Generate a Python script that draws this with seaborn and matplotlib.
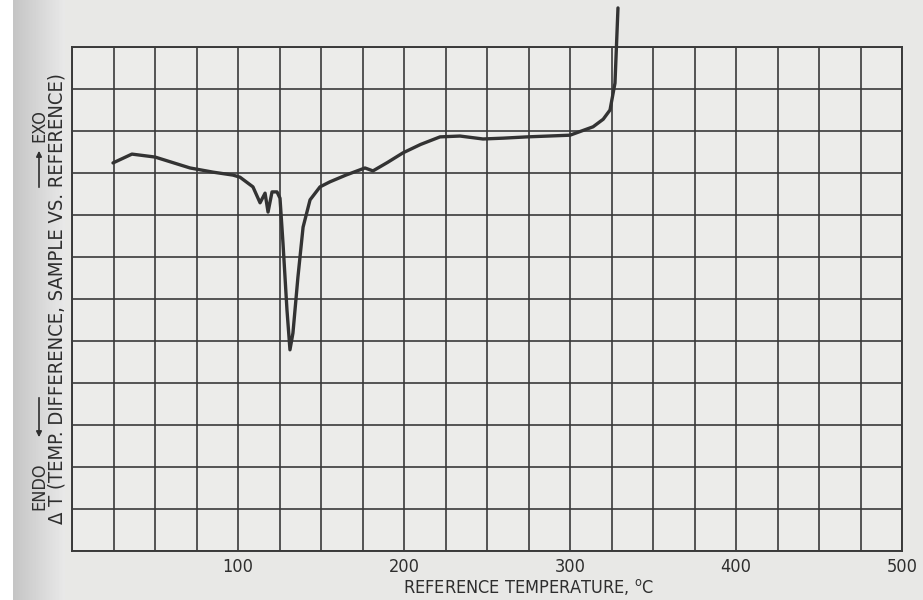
import numpy as np
import matplotlib
matplotlib.use("Agg")
import matplotlib.pyplot as plt
import pandas as pd
import seaborn as sns

# DTA trace (x in deg C, y in grid squares from the bottom)
temp = [24.7, 36.1, 50.0, 71.1, 85.0, 97.0, 101.2, 109.0, 113.3, 116.3, 118.1, 120.5,
        123.5, 125.3, 127.1, 129.5, 131.3, 133.1, 136.1, 139.2, 143.4, 149.4, 155.4,
        165.0, 176.5, 181.3, 190.0, 199.4, 210.0, 221.7, 233.7, 247.6, 260.0, 274.1,
        300.0, 313.9, 320.0, 324.1, 327.1, 328.3, 328.9]
delta_t = [9.24, 9.45, 9.38, 9.12, 9.02, 8.95, 8.90, 8.67, 8.29, 8.52, 8.07, 8.55,
           8.55, 8.40, 7.33, 5.74, 4.79, 5.19, 6.52, 7.71, 8.36, 8.67, 8.79,
           8.95, 9.12, 9.05, 9.25, 9.48, 9.68, 9.86, 9.88, 9.81, 9.83, 9.86,
           9.90, 10.10, 10.28, 10.50, 11.14, 12.33, 12.93]

xticks = [100, 200, 300, 400, 500]
xtick_labels = ["100", "200", "300", "400", "500"]

df = pd.DataFrame({"temp": temp, "dt": delta_t})

sns.set_style("white")
plt.rcParams['font.family'] = ['Liberation Sans Narrow', 'DejaVu Sans']
plt.rcParams['font.stretch'] = 'condensed'

paper = '#e8e8e6'
ink = '#3a3a3a'
txt = '#2e2e2e'

fig = plt.figure(figsize=(9.23, 6.0), dpi=100, facecolor=paper)

# scanned page edge on the left: white margin then a grey shadow
bg = fig.add_axes([0, 0, 65 / 923, 1], zorder=-10)
shade = np.concatenate([np.ones(13) * 1.0, np.linspace(0.77, 0.91, 52)])
bg.imshow(shade[None, :], cmap='gray', vmin=0, vmax=1, aspect='auto',
          extent=[0, 1, 0, 1])
bg.set_axis_off()

ax = fig.add_axes([72 / 923, 1 - 551 / 600, 830 / 923, 504 / 600])
ax.set_facecolor('#ececea')

sns.lineplot(data=df, x="temp", y="dt", ax=ax, color='#333333', linewidth=2.4,
             estimator=None, sort=False)
for ln in ax.lines:
    ln.set_clip_on(False)
    ln.set_zorder(5)

ax.set_xlim(0, 500)
ax.set_ylim(0, 12)
ax.set_xticks(xticks)
ax.set_xticklabels(xtick_labels, fontsize=13, color=txt)
ax.set_xticks(np.arange(0, 501, 25), minor=True)
ax.set_yticks(np.arange(0, 13, 1))
ax.set_yticklabels([])
ax.tick_params(axis='y', length=0)
ax.tick_params(axis='x', which='major', length=4, width=1.2, color=ink, pad=1)
ax.tick_params(axis='x', which='minor', length=0)
ax.grid(True, which='both', color=ink, linewidth=1.2)
for s in ax.spines.values():
    s.set_color(ink)
    s.set_linewidth(1.4)

ax.set_xlabel("REFERENCE TEMPERATURE, $^{\\rm o}$C", fontsize=13, color=txt)
ax.xaxis.set_label_coords(0.55, -0.052)
ax.set_ylabel("")

# y axis caption, two rotated lines
fig.text(57 / 923, 1 - 299 / 600, "\u0394 T (TEMP. DIFFERENCE, SAMPLE VS. REFERENCE)",
         rotation=90, ha='center', va='center', fontsize=14.5, color=txt)
fig.text(39 / 923, 1 - 486 / 600, "ENDO", rotation=90, ha='center', va='center',
         fontsize=13, color=txt)
fig.text(39 / 923, 1 - 126 / 600, "EXO", rotation=90, ha='center', va='center',
         fontsize=13, color=txt)
fig.add_artist(matplotlib.patches.FancyArrowPatch(
    (39 / 923, 1 - 395 / 600), (39 / 923, 1 - 440 / 600), transform=fig.transFigure,
    arrowstyle='-|>', mutation_scale=8, color=txt, linewidth=1.2))
fig.add_artist(matplotlib.patches.FancyArrowPatch(
    (39 / 923, 1 - 190 / 600), (39 / 923, 1 - 148 / 600), transform=fig.transFigure,
    arrowstyle='-|>', mutation_scale=8, color=txt, linewidth=1.2))

fig.savefig("out.png", dpi=100, facecolor=paper)
